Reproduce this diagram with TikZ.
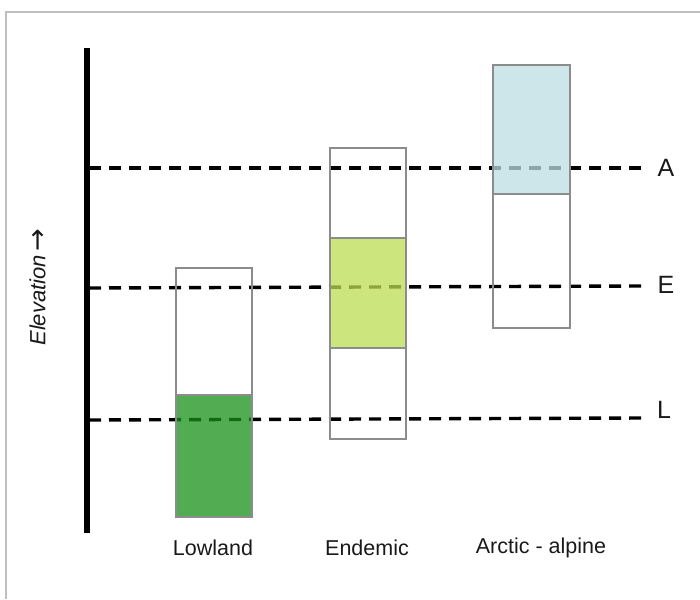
\documentclass[tikz,border=0pt]{standalone}
\usepackage{fontspec}
\setmainfont{Liberation Sans}
\newfontfamily\arrowfont{DejaVu Sans}
\begin{document}
\begin{tikzpicture}[x=1pt,y=-1pt,
  frameline/.style={draw=black!25,line width=1.5pt},
  axisbar/.style={line width=6pt,black},
  level/.style={dash pattern=on 12pt off 8pt,line width=3.4pt,black},
  rangebox/.style={draw=black!45,line width=1.2pt},
  band/.style={fill opacity=0.75},
  catlabel/.style={font=\fontsize{21.5}{26}\selectfont,text=black!90,inner sep=0pt},
  levlabel/.style={font=\fontsize{25}{29}\selectfont,text=black!90,inner sep=0pt}]
\definecolor{lowgreen}{RGB}{24,144,24}
\definecolor{endgreen}{RGB}{188,220,82}
\definecolor{arcblue}{RGB}{187,222,227}
\useasboundingbox (0,0) rectangle (700,599);
% frame
\draw[frameline] (6,599) -- (6,12) -- (700,12);
% axis
\coordinate (axtop) at (87,48);
\coordinate (axbot) at (87,533);
\draw[axisbar] (axtop) -- (axbot);
\node[rotate=90,font=\fontsize{22}{26}\selectfont,inner sep=0pt,text=black!90] (elev) at (38,287) {\textit{Elevation}\hspace{4pt}{\arrowfont\fontsize{27}{30}\selectfont\raisebox{-1pt}{→}}};
% level lines
\coordinate (a0) at (89,168); \coordinate (a1) at (642,168);
\coordinate (e0) at (89,288); \coordinate (e1) at (642,286);
\coordinate (l0) at (89,420); \coordinate (l1) at (642,418);
\draw[level] (a0) -- (a1);
\draw[level] (e0) -- (e1);
\draw[level] (l0) -- (l1);
\node[levlabel] (A) at (666,168) {A};
\node[levlabel] (E) at (666,285) {E};
\node[levlabel] (L) at (664,410) {L};
% boxes
\fill[lowgreen,band] (176,395) rectangle (252,517);
\draw[rangebox] (176,268) rectangle (252,517);
\draw[rangebox] (176,395) -- (252,395);
\fill[endgreen,band] (330,238) rectangle (406,348);
\draw[rangebox] (330,148) rectangle (406,439);
\draw[rangebox] (330,238) -- (406,238);
\draw[rangebox] (330,348) -- (406,348);
\fill[arcblue,band] (493,65) rectangle (570,194);
\draw[rangebox] (493,65) rectangle (570,328);
\draw[rangebox] (493,194) -- (570,194);
% labels
\node[catlabel] (low) at (213,548) {Lowland};
\node[catlabel] (end) at (367,548) {Endemic};
\node[catlabel] (arc) at (541,548) {Arctic - alpine};
\end{tikzpicture}
\end{document}
